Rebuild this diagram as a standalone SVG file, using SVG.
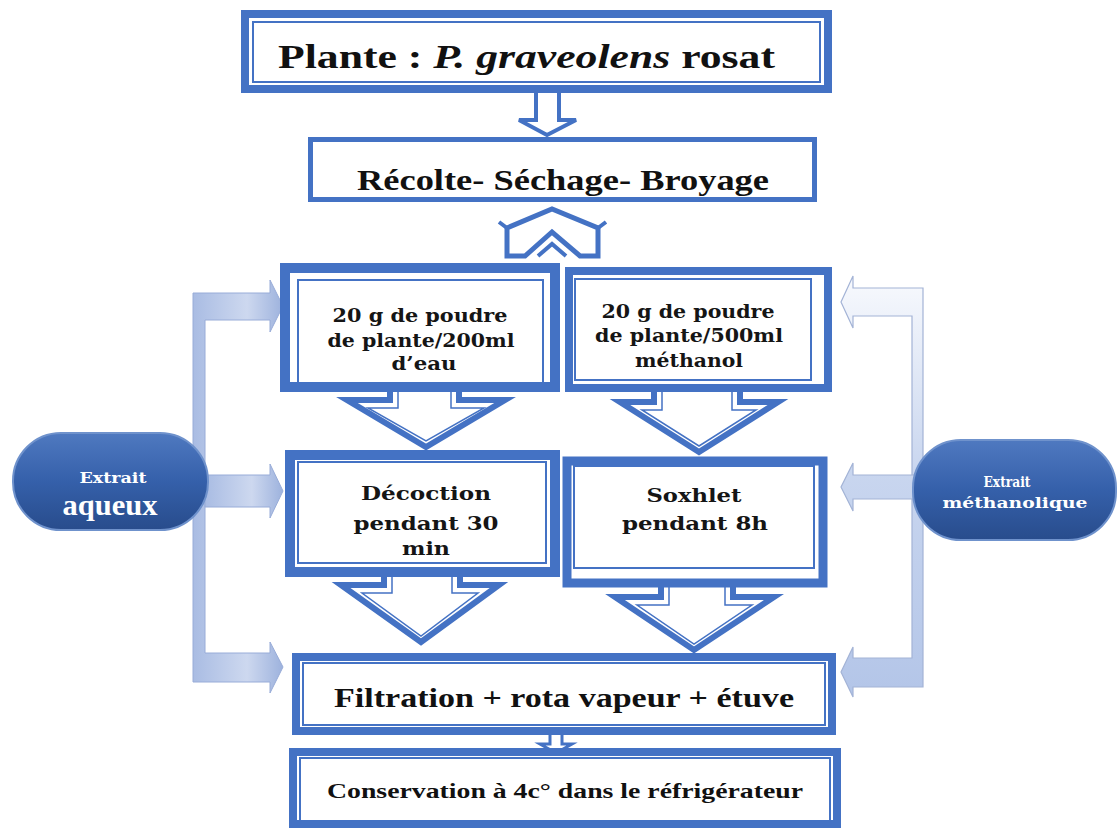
<svg xmlns="http://www.w3.org/2000/svg" width="1118" height="830" viewBox="0 0 1118 830">
<defs>
<linearGradient id="gl" x1="0" y1="0" x2="1" y2="0">
<stop offset="0" stop-color="#a9bce3"/><stop offset="0.6" stop-color="#cdd8ef"/><stop offset="1" stop-color="#9db2dd"/>
</linearGradient>
<linearGradient id="gr" gradientUnits="userSpaceOnUse" x1="0" y1="280" x2="0" y2="700">
<stop offset="0" stop-color="#f7f9fd"/><stop offset="0.45" stop-color="#c9d6ef"/><stop offset="1" stop-color="#b3c5e8"/>
</linearGradient>
<linearGradient id="gp" x1="0" y1="0" x2="0" y2="1">
<stop offset="0" stop-color="#4f79c0"/><stop offset="0.5" stop-color="#3560aa"/><stop offset="1" stop-color="#284c8c"/>
</linearGradient>
<style>
.ob{fill:#fff;stroke:#4472c4}
.ib{fill:none;stroke:#4472c4;stroke-width:2}
.ar{fill:#fff;stroke:#4472c4;stroke-width:6;stroke-linejoin:miter}
.ai{fill:none;stroke:#4472c4;stroke-width:1.5}
.tw{font-family:"DejaVu Serif",serif;font-weight:bold;fill:#151515;font-size:18px}
.pw{font-family:"DejaVu Serif",serif;font-weight:bold;fill:#fff;font-size:14px}
</style>
</defs>
<rect width="1118" height="830" fill="#fff"/>

<g id="connectors">
<path d="M193,293 H270 V280 L283,306 L270,332 V320 H205 V653 H270 V642 L283,667 L270,693 V682 H193 Z" fill="url(#gl)" stroke="#98acd8" stroke-width="1"/>
<path d="M205,475 H270 V464 L283,491 L270,518 V507 H205 Z" fill="url(#gl)" stroke="#98acd8" stroke-width="1"/>
<path d="M923,288 H853 V276 L841,302 L853,328 V316 H912 V658 H853 V647 L841,672 L853,697 V687 H923 Z" fill="url(#gr)" stroke="#a3b3d6" stroke-width="1.2"/>
<path d="M915,475 H853 V463 L841,487 L853,511 V499 H915 Z" fill="url(#gr)" stroke="#a3b3d6" stroke-width="1.2"/>
<path d="M536,92 V120 H519 L547,135 L576,120 H559 V92" fill="#fff" stroke="#4472c4" stroke-width="4"/>
<path d="M507,228 L552,209 L598,228 L598,256 L580,256 L552,232 L525,256 L507,256 Z" fill="#fff" stroke="#4472c4" stroke-width="5" stroke-linejoin="miter"/>
<path d="M538,256 L552,244 L566,256" fill="none" stroke="#4472c4" stroke-width="4"/>
<path d="M499,222 L507,228 M606,222 L598,228" stroke="#4472c4" stroke-width="4"/>
<path class="ar" d="M390,388 V400 H347 L426,447 L505,400 H459 V388"/>
<path class="ai" d="M398,390 V408 H368 L426,441 L484,408 H451 V390"/>
<path class="ar" d="M654,388 V402 H620 L699,452 L778,402 H740 V388"/>
<path class="ai" d="M662,390 V410 H642 L699,446 L756,410 H732 V390"/>
<path class="ar" d="M384,574 V585 H341 L421,642 L499,585 H460 V574"/>
<path class="ai" d="M392,576 V593 H362 L421,636 L478,593 H452 V576"/>
<path class="ar" d="M661,585 V597 H615 L694,650 L774,597 H733 V585"/>
<path class="ai" d="M669,587 V605 H637 L694,644 L752,605 H725 V587"/>
<path d="M550,733 V744 H540 L556,753 L572,744 H562 V733" fill="#fff" stroke="#4472c4" stroke-width="3"/>
</g>

<g id="n-plante">
<rect class="ob" x="245" y="14" width="583" height="75" stroke-width="8"/>
<rect class="ib" x="253" y="22" width="567" height="60"/>
<text x="278" y="68" font-family="Liberation Serif, Times New Roman, serif" font-weight="bold" fill="#111" font-size="33" textLength="497" lengthAdjust="spacingAndGlyphs">Plante : <tspan font-style="italic">P. graveolens</tspan> rosat</text>
</g>

<g id="n-recolte">
<rect class="ob" x="310.5" y="139.5" width="504" height="60" stroke-width="5"/>
<text x="357" y="190" font-family="Liberation Serif, Times New Roman, serif" font-weight="bold" fill="#111" font-size="30" textLength="412" lengthAdjust="spacingAndGlyphs">Récolte- Séchage- Broyage</text>
</g>

<g id="n-eau">
<rect class="ob" x="285" y="268" width="270" height="119" stroke-width="10"/>
<rect class="ib" x="298" y="280" width="245" height="104"/>
<text class="tw" x="420" y="322" text-anchor="middle" textLength="175" lengthAdjust="spacingAndGlyphs">20 g de poudre</text>
<text class="tw" x="421" y="347" text-anchor="middle" textLength="187" lengthAdjust="spacingAndGlyphs">de plante/200ml</text>
<text class="tw" x="424" y="370" text-anchor="middle" textLength="65" lengthAdjust="spacingAndGlyphs">d’eau</text>
</g>

<g id="n-methanol">
<rect class="ob" x="569" y="271" width="259" height="117" stroke-width="8"/>
<rect class="ib" x="575" y="279" width="236" height="101"/>
<text class="tw" x="688" y="318" text-anchor="middle" textLength="173" lengthAdjust="spacingAndGlyphs">20 g de poudre</text>
<text class="tw" x="689" y="342" text-anchor="middle" textLength="188" lengthAdjust="spacingAndGlyphs">de plante/500ml</text>
<text class="tw" x="689" y="367" text-anchor="middle" textLength="108" lengthAdjust="spacingAndGlyphs">méthanol</text>
</g>

<g id="n-decoction">
<rect class="ob" x="290" y="455" width="265" height="117" stroke-width="10"/>
<rect class="ib" x="298" y="462" width="248" height="101"/>
<text class="tw" x="426" y="500" text-anchor="middle" textLength="130" lengthAdjust="spacingAndGlyphs">Décoction</text>
<text class="tw" x="426" y="530" text-anchor="middle" textLength="145" lengthAdjust="spacingAndGlyphs">pendant 30</text>
<text class="tw" x="426" y="555" text-anchor="middle" textLength="48" lengthAdjust="spacingAndGlyphs">min</text>
</g>

<g id="n-soxhlet">
<rect class="ob" x="567" y="461" width="256" height="122" stroke-width="9"/>
<rect class="ib" x="574" y="466" width="240" height="102"/>
<text class="tw" x="694" y="502" text-anchor="middle" textLength="95" lengthAdjust="spacingAndGlyphs">Soxhlet</text>
<text class="tw" x="695" y="530" text-anchor="middle" textLength="146" lengthAdjust="spacingAndGlyphs">pendant 8h</text>
</g>

<g id="n-filtration">
<rect class="ob" x="296" y="657" width="536" height="74" stroke-width="8"/>
<rect class="ib" x="303" y="663" width="522" height="62"/>
<text x="334" y="707" font-family="Liberation Serif, Times New Roman, serif" font-weight="bold" fill="#111" font-size="27" textLength="460" lengthAdjust="spacingAndGlyphs">Filtration + rota vapeur + étuve</text>
</g>

<g id="n-conservation">
<rect class="ob" x="293" y="752" width="544" height="72" stroke-width="8"/>
<rect class="ib" x="300" y="758" width="530" height="63"/>
<text x="327" y="798" font-family="Liberation Serif, Times New Roman, serif" font-weight="bold" fill="#111" font-size="22" textLength="476" lengthAdjust="spacingAndGlyphs">Conservation à 4c° dans le réfrigérateur</text>
</g>

<g id="n-aqueux">
<rect x="13" y="433" width="195" height="97" rx="48" ry="48" fill="url(#gp)" stroke="#6f92cc" stroke-width="2"/>
<text class="pw" x="113" y="483" text-anchor="middle" textLength="67" lengthAdjust="spacingAndGlyphs">Extrait</text>
<text x="110" y="515" text-anchor="middle" font-family="Liberation Serif, Times New Roman, serif" font-weight="bold" font-size="30" fill="#fff" textLength="95" lengthAdjust="spacingAndGlyphs">aqueux</text>
</g>

<g id="n-methanolique">
<rect x="913" y="440" width="203" height="100" rx="48" ry="48" fill="url(#gp)" stroke="#6f92cc" stroke-width="2"/>
<text class="pw" x="1007" y="487" text-anchor="middle" textLength="47" lengthAdjust="spacingAndGlyphs">Extrait</text>
<text class="pw" x="1015" y="508" text-anchor="middle" textLength="145" lengthAdjust="spacingAndGlyphs">méthanolique</text>
</g>
</svg>
